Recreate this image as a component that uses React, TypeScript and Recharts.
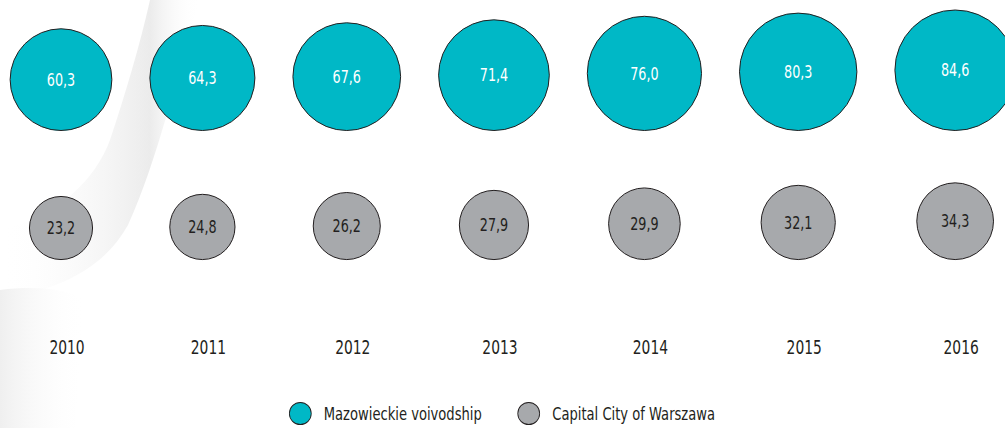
import { ScatterChart, Scatter, XAxis, YAxis, ZAxis, Legend } from 'recharts'

const YEARS = ['2010', '2011', '2012', '2013', '2014', '2015', '2016']
const MAZOWIECKIE = [60.3, 64.3, 67.6, 71.4, 76.0, 80.3, 84.6]
const WARSZAWA = [23.2, 24.8, 26.2, 27.9, 29.9, 32.1, 34.3]

const WIDTH = 1005
const HEIGHT = 428
const TEAL = '#00b8c6'
const GREY = '#a7a9ac'
const OUTLINE = '#231f20'
const FONT = '"DejaVu Sans Condensed", "DejaVu Sans", sans-serif'
// no condensed web font here, so squeeze text horizontally
const SQUEEZE = 0.81

// radius (px) = R_K * sqrt(value), i.e. circle area proportional to value
const R_K = 6.55
const GAP = 37
const LEFT_PAD = 61

// bubbles are packed side by side, so each centre depends on the radii before it
const positions: number[] = []
MAZOWIECKIE.forEach((v, i) => {
  if (i === 0) positions.push(0)
  else {
    const prev = MAZOWIECKIE[i - 1]
    positions.push(positions[i - 1] + R_K * Math.sqrt(prev) + GAP + R_K * Math.sqrt(v) + 1)
  }
})

const mazData = MAZOWIECKIE.map((v, i) => ({ pos: positions[i], row: 2, value: v, year: YEARS[i] }))
const warData = WARSZAWA.map((v, i) => ({ pos: positions[i], row: 1, value: v, year: YEARS[i] }))

const fmt = (v: number) => v.toFixed(1).replace('.', ',')

function bubble(fill: string, textColor: string) {
  return (props: any) => {
    const { cx, cy, size, payload } = props
    const r = Math.sqrt(size / Math.PI)
    const y = cy - r
    return (
      <g>
        <circle cx={cx} cy={y} r={r} fill={fill} stroke={OUTLINE} strokeWidth={1} />
        <text transform={`translate(${cx},${y}) scale(${SQUEEZE},1)`} dy="0.35em" textAnchor="middle" fill={textColor}
          style={{ fontFamily: FONT, fontSize: 17.5 }}>
          {fmt(payload.value)}
        </text>
      </g>
    )
  }
}

function YearTick(props: any) {
  const { x, y, payload } = props
  const label = YEARS[positions.indexOf(payload.value)] ?? ''
  return (
    <text transform={`translate(${x + 6},${y - 4}) scale(${SQUEEZE},1)`} dy="0.71em" textAnchor="middle"
      fill={OUTLINE} style={{ fontFamily: FONT, fontSize: 19 }}>
      {label}
    </text>
  )
}

function LegendContent() {
  const items = [
    { name: 'Mazowieckie voivodship', color: TEAL },
    { name: 'Capital City of Warszawa', color: GREY },
  ]
  return (
    <div style={{ height: 30, display: 'flex', justifyContent: 'center', alignItems: 'center' }}>
      <div style={{ display: 'flex', alignItems: 'center', gap: 44, transform: `scaleX(${SQUEEZE})`, fontFamily: FONT, fontSize: 18, color: OUTLINE, whiteSpace: 'nowrap' }}>
        {items.map((it) => (
          <span key={it.name} style={{ display: 'flex', alignItems: 'center', gap: 15 }}>
            <span style={{ width: 21 / SQUEEZE, height: 21, borderRadius: '50%', background: it.color, border: `1px solid ${OUTLINE}` }} />
            {it.name}
          </span>
        ))}
      </div>
    </div>
  )
}

export default function App() {
  return (
    <div style={{ position: 'relative', width: WIDTH, height: HEIGHT, background: '#fff', overflow: 'hidden' }}>
      <style>{'body{margin:0}'}</style>
      <svg width={WIDTH} height={HEIGHT} style={{ position: 'absolute', left: 0, top: 0 }}>
        <defs>
          <linearGradient id="fold" x1="0" y1="0" x2="1" y2="0">
            <stop offset="0%" stopColor="#ffffff" stopOpacity={0} />
            <stop offset="75%" stopColor="#e8e8e8" stopOpacity={0.85} />
            <stop offset="100%" stopColor="#ffffff" stopOpacity={0} />
          </linearGradient>
          <linearGradient id="low" x1="0" y1="0" x2="1" y2="0">
            <stop offset="0%" stopColor="#efefef" />
            <stop offset="100%" stopColor="#ffffff" stopOpacity={0} />
          </linearGradient>
        </defs>
        <path d="M150,0 L200,0 C178,70 158,160 128,225 C100,275 50,290 0,300 L0,230 C60,215 95,180 110,140 C125,95 140,45 150,0 Z" fill="url(#fold)" />
        <path d="M0,290 C40,285 70,290 85,300 L75,428 L0,428 Z" fill="url(#low)" />
      </svg>
      <div style={{ position: 'relative' }}>
        <ScatterChart width={WIDTH} height={HEIGHT} margin={{ top: 130.5, right: 0, bottom: 0, left: 0 }}>
          <XAxis
            type="number"
            dataKey="pos"
            domain={[-LEFT_PAD, WIDTH - LEFT_PAD]}
            ticks={positions}
            interval={0}
            height={61}
            axisLine={false}
            tickLine={false}
            tick={<YearTick />}
          />
          <YAxis type="number" dataKey="row" domain={[0.4, 2]} hide />
          <ZAxis type="number" dataKey="value" domain={[0, 100]} range={[0, Math.PI * R_K * R_K * 100]} />
          <Legend verticalAlign="bottom" content={() => <LegendContent />} />
          <Scatter name="Mazowieckie voivodship" data={mazData} fill={TEAL}
            shape={bubble(TEAL, '#ffffff')} isAnimationActive={false} />
          <Scatter name="Capital City of Warszawa" data={warData} fill={GREY}
            shape={bubble(GREY, OUTLINE)} isAnimationActive={false} />
        </ScatterChart>
      </div>
    </div>
  )
}
